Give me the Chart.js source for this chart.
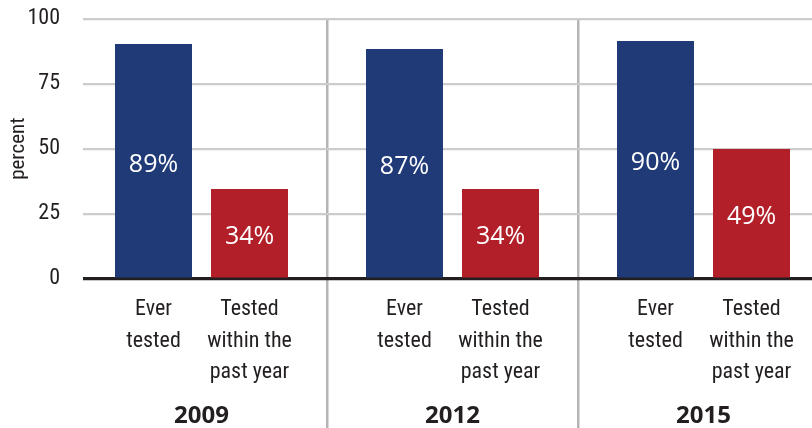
<!DOCTYPE html>
<html>
<head>
<meta charset="utf-8">
<script src="https://cdn.jsdelivr.net/npm/chart.js@4"></script>
<style>
  html, body { margin: 0; padding: 0; overflow: hidden; background: #ffffff; }
  #wrap { position: relative; width: 830px; height: 428px; }
</style>
</head>
<body>
<div id="wrap"><canvas id="c"></canvas></div>
<script>
// ---- data ----
const years = ["2009", "2012", "2015"];
const seriesNames = ["Ever tested", "Tested within the past year"];
const everTested = [90.3, 88.3, 91.4];        // bar heights
const pastYear = [34.5, 34.5, 49.9];
const everTestedLabels = [89, 87, 90];         // printed values
const pastYearLabels = [34, 34, 49];
const subLabels = [["Ever", "tested"], ["Tested", "within the", "past year"]];
const yTicks = [0, 25, 50, 75, 100];

const NARROW = "'Roboto Condensed', 'Liberation Sans Narrow', Roboto, sans-serif";
const INK = '#231f20';
const BLUE = '#1f3a77';
const RED = '#b21f29';

// gridlines in the reference begin a few pixels right of the plot's left edge
const gridInset = {
  id: 'gridInset',
  beforeDatasetsDraw(chart) {
    const { ctx, chartArea } = chart;
    ctx.save();
    ctx.fillStyle = '#ffffff';
    ctx.fillRect(chartArea.left - 3, chartArea.top - 3, 10, chartArea.bottom - chartArea.top + 6);
    ctx.restore();
  }
};

const labelPlugin = {
  id: 'labels',
  afterDatasetsDraw(chart) {
    const ctx = chart.ctx;
    const printed = [everTestedLabels, pastYearLabels];
    ctx.save();
    ctx.textAlign = 'center';
    ctx.textBaseline = 'alphabetic';
    chart.data.datasets.forEach((ds, di) => {
      const meta = chart.getDatasetMeta(di);
      meta.data.forEach((bar, i) => {
        const mid = (bar.y + bar.base) / 2;
        ctx.fillStyle = '#ffffff';
        ctx.font = "25px 'Open Sans', sans-serif";
        ctx.fillText(printed[di][i] + '%', bar.x, mid + 11);
        // category sub-labels below the axis
        ctx.fillStyle = INK;
        ctx.font = "22px " + NARROW;
        subLabels[di].forEach((line, li) => {
          ctx.fillText(line, bar.x, 315 + li * 31.5);
        });
      });
    });
    ctx.restore();
  }
};

new Chart(document.getElementById('c'), {
  type: 'bar',
  data: {
    labels: years,
    datasets: [
      { label: seriesNames[0], data: everTested, backgroundColor: BLUE,
        categoryPercentage: 0.765, barPercentage: 0.802 },
      { label: seriesNames[1], data: pastYear, backgroundColor: RED,
        categoryPercentage: 0.765, barPercentage: 0.802 }
    ]
  },
  options: {
    responsive: true,
    maintainAspectRatio: false,
    animation: false,
    layout: { padding: { top: 18.7, right: 1, bottom: 0, left: 0 } },
    plugins: { legend: { display: false }, tooltip: { enabled: false } },
    scales: {
      x: {
        type: 'category',
        grid: {
          offset: true,
          color: (c) => (c.index === 0 ? 'rgba(0,0,0,0)' : '#b5b5b8'),
          lineWidth: 2.5,
          drawTicks: true,
          tickLength: 150
        },
        border: { display: true, color: INK, width: 2.5 },
        ticks: {
          color: INK,
          font: { family: "'Open Sans', sans-serif", size: 24, weight: 'bold' },
          padding: -27,
          maxRotation: 0
        },
        afterFit: (s) => { s.height = 428 - 278.7; }
      },
      y: {
        min: 0,
        max: 100,
        afterBuildTicks: (s) => { s.ticks = yTicks.map(v => ({ value: v })); },
        grid: {
          color: (c) => (c.tick && c.tick.value === 0 ? INK : '#cccccc'),
          lineWidth: 2.2,
          drawTicks: false
        },
        border: { display: false },
        ticks: {
          color: INK,
          font: { family: NARROW, size: 22 },
          padding: 16
        },
        title: {
          display: true,
          text: 'percent',
          color: INK,
          font: { family: NARROW, size: 21 },
          padding: { top: 6, bottom: 0 }
        },
        afterFit: (s) => { s.width = 76; s.paddingTop = 0; s.paddingBottom = 0; }
      }
    }
  },
  plugins: [gridInset, labelPlugin]
});
</script>
</body>
</html>
